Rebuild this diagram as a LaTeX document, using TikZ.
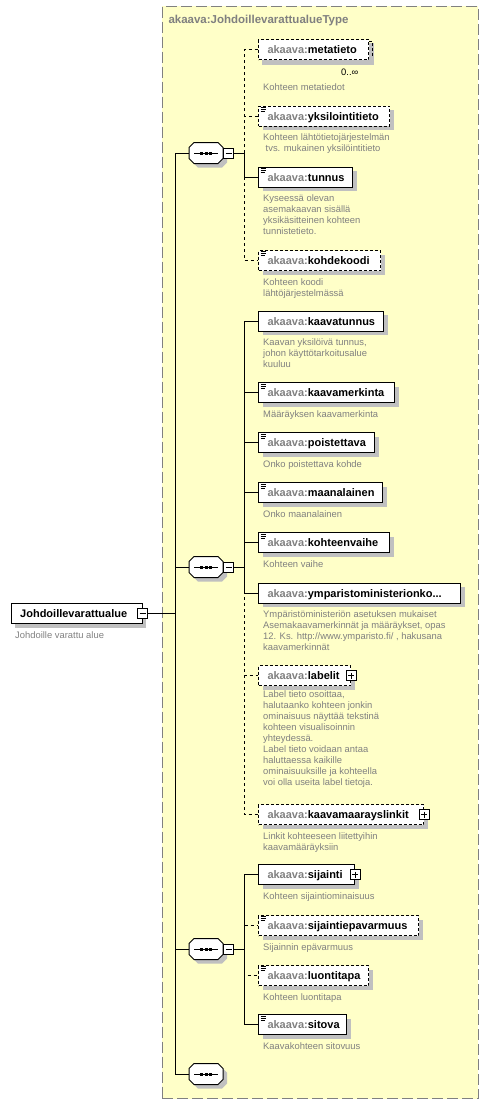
\documentclass[tikz,border=0pt]{standalone}
\usepackage{fontspec}
\setmainfont{Liberation Sans}
\usetikzlibrary{shadows}
\definecolor{bgyellow}{RGB}{255,255,200}
\definecolor{framegray}{RGB}{128,128,128}
\definecolor{shadowgray}{RGB}{192,192,192}
\definecolor{txtgray}{RGB}{128,128,128}
\newcommand\ak{\textcolor{txtgray}{akaava:}}
\newcommand\simpicon[1]{\draw[line width=0.8pt] ([xshift=2.5pt,yshift=-1.8pt]#1.north west) -- ++(5pt,0pt) ([xshift=2.5pt,yshift=-3.8pt]#1.north west) -- ++(5pt,0pt) ([xshift=2.5pt,yshift=-5.8pt]#1.north west) -- ++(4pt,0pt);}
\newcommand\octpath{(-12,-10.5) -- (12,-10.5) -- (17,-5.5) -- (17,5.5) -- (12,10.5) -- (-12,10.5) -- (-17,5.5) -- (-17,-5.5) -- cycle}
\newcommand\seqmark[1]{%
  \fill[shadowgray, shift={(#1.center)}, xshift=4pt, yshift=-4pt] \octpath;
  \draw[line width=1pt, fill=white, shift={(#1.center)}] \octpath;
  \draw[line width=1pt] ([xshift=-12pt]#1.center) -- ([xshift=12pt]#1.center);
  \foreach \dx in {-4.5,0,4.5} {\fill ([xshift=\dx pt-1.5pt,yshift=-1.5pt]#1.center) rectangle ++(3pt,3pt);}}
\begin{document}
\begin{tikzpicture}[x=1pt,y=-1pt,
  sh/.style={drop shadow={shadow xshift=4pt,shadow yshift=-4pt,fill=shadowgray,opacity=1}},
  elem/.style={draw, line width=1pt, fill=white, sh, anchor=north west, minimum height=20pt,
    inner xsep=9pt, inner ysep=0pt, text width=#1, align=left, text height=9pt, text depth=1pt,
    font=\bfseries\fontsize{11}{13}\selectfont},
  opt/.style={dash pattern=on 3pt off 2pt},
  desc/.style={anchor=north west, inner sep=0pt, align=left, text=txtgray, font=\fontsize{9.4}{11}\selectfont},
  seq/.style={shape=rectangle, minimum width=34pt, minimum height=21pt, inner sep=0pt},
  pm/.style={draw, line width=0.8pt, fill=white, minimum size=10pt, inner sep=0pt, shape=rectangle},
  pmminus/.style={pm, path picture={\draw[line width=0.8pt] ([xshift=2pt]path picture bounding box.west) -- ([xshift=-2pt]path picture bounding box.east);}},
  pmplus/.style={pm, path picture={\draw[line width=0.8pt] ([xshift=2pt]path picture bounding box.west) -- ([xshift=-2pt]path picture bounding box.east) ([yshift=-2pt]path picture bounding box.north) -- ([yshift=2pt]path picture bounding box.south);}},
  conn/.style={line width=1pt},
  dconn/.style={line width=1pt, dash pattern=on 3pt off 3pt},
]
\useasboundingbox (0,0) rectangle (488,1106);
% type frame
\node[draw=framegray, line width=1pt, dash pattern=on 11pt off 4pt, fill=bgyellow, anchor=north west,
  minimum width=316pt, minimum height=1092.5pt, inner sep=0pt] (tb) at (161.5,5.5) {};
\node[anchor=base west, inner sep=0pt, text=txtgray, font=\bfseries\fontsize{11.5}{13}\selectfont] (title) at (168.3,23.3) {akaava:JohdoillevarattualueType};

% root
\node[elem=113pt] (root) at (10.7,603.3) {Johdoillevarattualue};
\node[pmminus] (rootm) at (root.east) {};
\node[desc] (rootd) at (15,630) {\rule{0pt}{8pt}Johdoille varattu alue};

% sequences
\coordinate (tTop) at (175,153);
\coordinate (tBot) at (175,1074);
\node[seq] (s1) at (206,153) {};
\node[seq] (s2) at (206,567) {};
\node[seq] (s3) at (206,949) {};
\node[seq] (s4) at (206,1074) {};
\seqmark{s1}\seqmark{s2}\seqmark{s3}\seqmark{s4}
\node[pmminus, anchor=west] (s1m) at (s1.east) {};
\node[pmminus, anchor=west] (s2m) at (s2.east) {};
\node[pmminus, anchor=west] (s3m) at (s3.east) {};
\coordinate (j1) at ([xshift=10pt]s1m.east);
\coordinate (j2) at ([xshift=10pt]s2m.east);
\coordinate (j3) at ([xshift=10pt]s3m.east);

% group 1
\fill[shadowgray] (262,43) rectangle (374,65);
\node[elem=92pt, opt, drop shadow={opacity=0}] (e1) at (258,39) {\ak metatieto};
\draw[line width=1pt, opt] ([yshift=-2pt]e1.north east) -- ++(3pt,0pt) -- ([xshift=3pt,yshift=3pt]e1.south east);
\node[anchor=base west, inner sep=0pt, font=\fontsize{9.4}{11}\selectfont] (e1m) at (341,75) {0..∞};
\node[desc] (d1) at (263,82.7) {\rule{0pt}{8pt}Kohteen metatiedot};

\node[elem=113pt, opt] (e2) at (258,105.7) {\ak yksilointitieto};
\node[desc] (d2) at (263,132.7) {\rule{0pt}{8pt}Kohteen lähtötietojärjestelmän\\\hspace{2.5pt}tvs. mukainen yksilöintitieto};

\node[elem=76pt] (e3) at (258,166.7) {\ak tunnus};
\node[desc] (d3) at (263,193.7) {\rule{0pt}{8pt}Kyseessä olevan\\asemakaavan sisällä\\yksikäsitteinen kohteen\\tunnistetieto.};

\node[elem=104pt, opt] (e4) at (258,250) {\ak kohdekoodi};
\node[desc] (d4) at (263,277) {\rule{0pt}{8pt}Kohteen koodi\\lähtöjärjestelmässä};

% group 2
\node[elem=107pt] (e5) at (258,310.7) {\ak kaavatunnus};
\node[desc] (d5) at (263,337.7) {\rule{0pt}{8pt}Kaavan yksilöivä tunnus,\\johon käyttötarkoitusalue\\kuuluu};

\node[elem=118pt] (e6) at (258,382.3) {\ak kaavamerkinta};
\node[desc] (d6) at (263,409.3) {\rule{0pt}{8pt}Määräyksen kaavamerkinta};

\node[elem=98pt] (e7) at (258,432.3) {\ak poistettava};
\node[desc] (d7) at (263,459.3) {\rule{0pt}{8pt}Onko poistettava kohde};

\node[elem=106pt] (e8) at (258,482.3) {\ak maanalainen};
\node[desc] (d8) at (263,509.3) {\rule{0pt}{8pt}Onko maanalainen};

\node[elem=113pt] (e9) at (258,532.3) {\ak kohteenvaihe};
\node[desc] (d9) at (263,559.3) {\rule{0pt}{8pt}Kohteen vaihe};

\node[elem=184pt] (e10) at (258,582.7) {\ak ymparistoministerionko...};
\node[desc] (d10) at (263,609) {\rule{0pt}{8pt}Ympäristöministeriön asetuksen mukaiset\\Asemakaavamerkinnät ja määräykset, opas\\12. Ks. http://www.ymparisto.fi/ , hakusana\\kaavamerkinnät};

\node[elem=74pt, opt] (e11) at (258,665) {\ak labelit};
\node[pmplus] (e11p) at (e11.east) {};
\node[desc] (d11) at (263,689.5) {\rule{0pt}{8pt}Label tieto osoittaa,\\halutaanko kohteen jonkin\\ominaisuus näyttää tekstinä\\kohteen visualisoinnin\\yhteydessä.\\Label tieto voidaan antaa\\haluttaessa kaikille\\ominaisuuksille ja kohteella\\voi olla useita label tietoja.};

\node[elem=147pt, opt] (e12) at (258,804) {\ak kaavamaarayslinkit};
\node[pmplus] (e12p) at (e12.east) {};
\node[desc] (d12) at (263,831) {\rule{0pt}{8pt}Linkit kohteeseen liitettyihin\\kaavamääräyksiin};

% group 3
\node[elem=78pt] (e13) at (258,864) {\ak sijainti};
\node[pmplus] (e13p) at (e13.east) {};
\node[desc] (d13) at (263,891) {\rule{0pt}{8pt}Kohteen sijaintiominaisuus};

\node[elem=142pt, opt] (e14) at (258,915) {\ak sijaintiepavarmuus};
\node[desc] (d14) at (263,942) {\rule{0pt}{8pt}Sijainnin epävarmuus};

\node[elem=92pt, opt] (e15) at (258,965) {\ak luontitapa};
\node[desc] (d15) at (263,992) {\rule{0pt}{8pt}Kohteen luontitapa};

\node[elem=70pt] (e16) at (258,1014.3) {\ak sitova};
\node[desc] (d16) at (263,1041) {\rule{0pt}{8pt}Kaavakohteen sitovuus};

\foreach \n in {e2,e3,e4,e6,e7,e8,e9,e14,e15,e16} {\simpicon{\n}}

% connectors
\draw[conn] (tTop) -- (tBot);
\draw[conn] (rootm.east) -- (rootm.east -| tTop);
\foreach \s in {s1,s2,s3,s4} {\draw[conn] (\s.west -| tTop) -- (\s.west);}
\foreach \s in {1,2,3} {\draw[conn] (s\s m.east) -- (j\s);}
\foreach \e in {e1,e2,e4} {\draw[dconn] (j1) |- (\e.west);}
\draw[conn] (j1) |- (e3.west);
\foreach \e in {e11,e12} {\draw[dconn] (j2) |- (\e.west);}
\foreach \e in {e5,e6,e7,e8,e9,e10} {\draw[conn] (j2) |- (\e.west);}
\foreach \e in {e14,e15} {\draw[dconn] (j3) |- (\e.west);}
\foreach \e in {e13,e16} {\draw[conn] (j3) |- (\e.west);}
\end{tikzpicture}
\end{document}
